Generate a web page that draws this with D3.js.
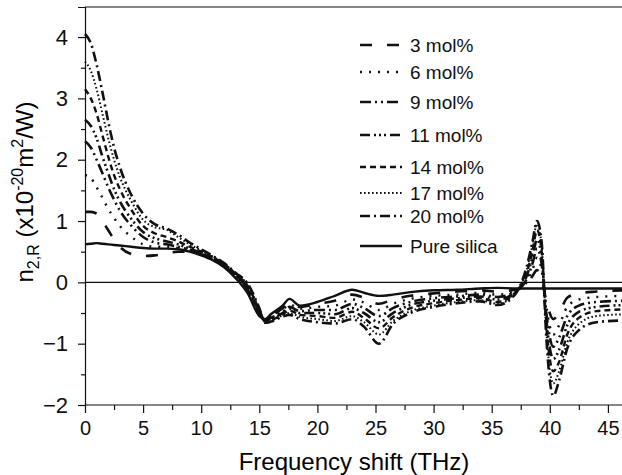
<!DOCTYPE html>
<html>
<head>
<meta charset="utf-8">
<script src="https://cdn.jsdelivr.net/npm/d3@7"></script>
<style>
    body{ margin:0; background:#fff; }
    svg{ font-family:"Liberation Sans", Arial, sans-serif; }
    .tick text{ fill:#111; }
    .xaxis .tick text{ font-size:20px; }
    .yaxis .tick text{ font-size:22px; }
    .domain, .tick line{ stroke:#111; stroke-width:1.2px; }
    .series{ fill:none; stroke:#111; stroke-linejoin:round; }
    .legend text{ font-size:19px; fill:#111; }
</style>
</head>
<body>
<div id="chart"></div>
<script>
// frequency shift (THz)
var freq = [0, 0.5, 1, 1.5, 2, 2.5, 3, 4, 5, 6, 7, 8, 9, 10, 11, 12, 13, 14, 15, 15.5, 16, 17, 17.6, 18.5,
            20, 21.5, 23, 24, 25.3, 26.5, 28, 30, 32, 34, 35.5, 37, 38, 38.5, 38.9, 39.3, 39.7, 40.3, 40.8,
            41.5, 42.5, 44, 46.5];

// n2,R values (x10^-20 m^2/W)
var mol3 = [1.15, 1.15, 1.12, 1.0, 0.85, 0.7, 0.58, 0.46, 0.43, 0.44, 0.47, 0.5, 0.5, 0.46, 0.38, 0.26, 0.1, -0.12,
            -0.5, -0.6, -0.55, -0.42, -0.33, -0.4, -0.35, -0.3, -0.2, -0.25, -0.35, -0.28, -0.22, -0.18, -0.15,
            -0.13, -0.15, -0.12, -0.05, 0.1, 0.2, 0.05, -0.3, -0.6, -0.5, -0.25, -0.18, -0.15, -0.13];
var mol6 = [1.75, 1.7, 1.55, 1.38, 1.2, 1.05, 0.92, 0.74, 0.62, 0.58, 0.58, 0.56, 0.52, 0.46, 0.38, 0.26, 0.1, -0.12,
            -0.5, -0.62, -0.56, -0.45, -0.36, -0.43, -0.4, -0.38, -0.28, -0.33, -0.45, -0.35, -0.27, -0.22, -0.2,
            -0.17, -0.2, -0.14, 0.0, 0.2, 0.4, 0.2, -0.4, -0.85, -0.7, -0.4, -0.28, -0.24, -0.22];
var mol9 = [2.3, 2.2, 2.0, 1.78, 1.55, 1.35, 1.17, 0.92, 0.74, 0.65, 0.62, 0.58, 0.53, 0.47, 0.39, 0.27, 0.11, -0.1,
            -0.48, -0.63, -0.58, -0.48, -0.4, -0.47, -0.45, -0.45, -0.35, -0.42, -0.55, -0.42, -0.32, -0.26, -0.23,
            -0.2, -0.24, -0.15, 0.05, 0.3, 0.55, 0.3, -0.5, -1.05, -0.9, -0.55, -0.38, -0.32, -0.3];
var mol11 = [2.65, 2.55, 2.35, 2.05, 1.78, 1.52, 1.32, 1.03, 0.82, 0.72, 0.67, 0.62, 0.55, 0.48, 0.4, 0.28, 0.12, -0.08,
            -0.46, -0.63, -0.6, -0.5, -0.43, -0.5, -0.5, -0.52, -0.42, -0.5, -0.65, -0.5, -0.37, -0.3, -0.26,
            -0.23, -0.28, -0.16, 0.1, 0.4, 0.7, 0.4, -0.6, -1.25, -1.1, -0.7, -0.48, -0.4, -0.37];
var mol14 = [3.15, 3.0, 2.75, 2.4, 2.05, 1.75, 1.52, 1.18, 0.92, 0.8, 0.74, 0.67, 0.58, 0.5, 0.41, 0.29, 0.13, -0.06,
            -0.45, -0.64, -0.62, -0.52, -0.46, -0.53, -0.55, -0.58, -0.48, -0.58, -0.75, -0.57, -0.42, -0.34, -0.29,
            -0.26, -0.32, -0.17, 0.15, 0.5, 0.85, 0.5, -0.7, -1.45, -1.3, -0.85, -0.58, -0.47, -0.44];
var mol17 = [3.6, 3.45, 3.15, 2.75, 2.35, 2.0, 1.72, 1.32, 1.02, 0.9, 0.86, 0.74, 0.62, 0.52, 0.42, 0.3, 0.14, -0.04,
            -0.43, -0.65, -0.63, -0.54, -0.5, -0.56, -0.6, -0.63, -0.55, -0.65, -0.85, -0.63, -0.47, -0.38, -0.32,
            -0.29, -0.35, -0.18, 0.2, 0.6, 0.95, 0.6, -0.8, -1.65, -1.45, -0.98, -0.68, -0.55, -0.52];
var mol20 = [4.05, 3.9, 3.55, 3.1, 2.62, 2.2, 1.88, 1.42, 1.12, 0.95, 0.88, 0.78, 0.65, 0.54, 0.43, 0.31, 0.15, -0.02,
            -0.42, -0.66, -0.64, -0.56, -0.53, -0.6, -0.65, -0.67, -0.6, -0.72, -1.0, -0.68, -0.5, -0.4, -0.34,
            -0.31, -0.37, -0.2, 0.25, 0.65, 1.0, 0.65, -0.9, -1.85, -1.6, -1.08, -0.78, -0.65, -0.62];
var pureSilica = [0.62, 0.63, 0.64, 0.63, 0.62, 0.61, 0.6, 0.58, 0.56, 0.55, 0.55, 0.54, 0.5, 0.44, 0.36, 0.24, 0.06, -0.18,
            -0.55, -0.6, -0.52, -0.38, -0.27, -0.38, -0.32, -0.22, -0.12, -0.17, -0.22, -0.2, -0.16, -0.13, -0.12,
            -0.1, -0.09, -0.1, -0.1, -0.1, -0.1, -0.1, -0.1, -0.1, -0.1, -0.1, -0.1, -0.1, -0.1];

var seriesNames = ["3 mol%", "6 mol%", "9 mol%", "11 mol%", "14 mol%", "17 mol%", "20 mol%", "Pure silica"];
var seriesValues = [mol3, mol6, mol9, mol11, mol14, mol17, mol20, pureSilica];
var xTicks = [0, 5, 10, 15, 20, 25, 30, 35, 40, 45];
var yTicks = [-2, -1, 0, 1, 2, 3, 4];

// line styles, same order as the names
var dashes = ["12,15", "2,7", "11,4,2,4,2,4", "10,4,2,3,2,3,2,4", "6,4", "1.6,2.4", "10,4,2,4", null];
var widths = [2.6, 2.4, 2.6, 2.6, 2.4, 2, 2.6, 2.4];

var W = 622, H = 475;
var m = {left:85, top:7, bottom:70};

var svg = d3.select("#chart").append("svg")
    .attr("width", W).attr("height", H);

var x = d3.scaleLinear().domain([0, 46.5]).range([m.left, m.left + 11.62 * 46.5]);
var y = d3.scaleLinear().domain([-2, 4.49]).range([H - m.bottom, m.top]);

// frame: top line + zero line
svg.append("line").attr("x1", m.left).attr("x2", W).attr("y1", y(4.49)).attr("y2", y(4.49))
    .attr("stroke", "#111").attr("stroke-width", 1.2);
svg.append("line").attr("x1", m.left).attr("x2", W).attr("y1", y(0)).attr("y2", y(0))
    .attr("stroke", "#111").attr("stroke-width", 1.2);

var xAxis = svg.append("g").attr("class", "xaxis").attr("transform", "translate(0," + y(-2) + ")")
    .call(d3.axisBottom(x).tickValues(xTicks).tickSize(8).tickPadding(8).tickFormat(d3.format("d")));
svg.append("g").attr("transform", "translate(0," + y(-2) + ")")
    .call(d3.axisBottom(x).tickValues(d3.range(2.5, 46, 5)).tickSize(5).tickFormat(""))
    .select(".domain").remove();

svg.append("g").attr("class", "yaxis").attr("transform", "translate(" + m.left + ",0)")
    .call(d3.axisLeft(y).tickValues(yTicks).tickSize(7).tickPadding(10).tickFormat(d3.format("d")));
svg.append("g").attr("transform", "translate(" + m.left + ",0)")
    .call(d3.axisLeft(y).tickValues(d3.range(-1.5, 4.1, 1)).tickSize(4).tickFormat(""))
    .select(".domain").remove();
xAxis.select(".domain").attr("d", "M" + m.left + ",0H" + W);

var line = d3.line()
    .x(function(d, i){ return x(freq[i]); })
    .y(function(d){ return y(d); })
    .curve(d3.curveMonotoneX);

seriesValues.forEach(function(vals, k){
    svg.append("path")
        .attr("class", "series")
        .attr("d", line(vals))
        .attr("stroke-width", widths[k])
        .attr("stroke-dasharray", dashes[k]);
});

// legend
var legY = [45, 72, 102, 135, 167, 193, 216, 246];
var leg = svg.append("g").attr("class", "legend");
seriesNames.forEach(function(name, k){
    leg.append("line")
        .attr("x1", 360).attr("x2", 402)
        .attr("y1", legY[k]).attr("y2", legY[k])
        .attr("stroke", "#111")
        .attr("stroke-width", widths[k])
        .attr("stroke-dasharray", dashes[k]);
    leg.append("text")
        .attr("x", 410).attr("y", legY[k] + 7)
        .text(name);
});

// axis titles
svg.append("text")
    .attr("x", 354).attr("y", 470)
    .attr("text-anchor", "middle")
    .attr("font-size", 24)
    .text("Frequency shift (THz)");

var yt = svg.append("text")
    .attr("transform", "translate(33,192) rotate(-90)")
    .attr("text-anchor", "middle")
    .attr("font-size", 24);
yt.append("tspan").text("n");
yt.append("tspan").attr("font-size", 16).attr("dy", 6).text("2,R");
yt.append("tspan").attr("dy", -6).text(" (x10");
yt.append("tspan").attr("font-size", 16).attr("dy", -10).text("-20");
yt.append("tspan").attr("dy", 10).text("m");
yt.append("tspan").attr("font-size", 16).attr("dy", -10).text("2");
yt.append("tspan").attr("dy", 10).text("/W)");
</script>
</body>
</html>
